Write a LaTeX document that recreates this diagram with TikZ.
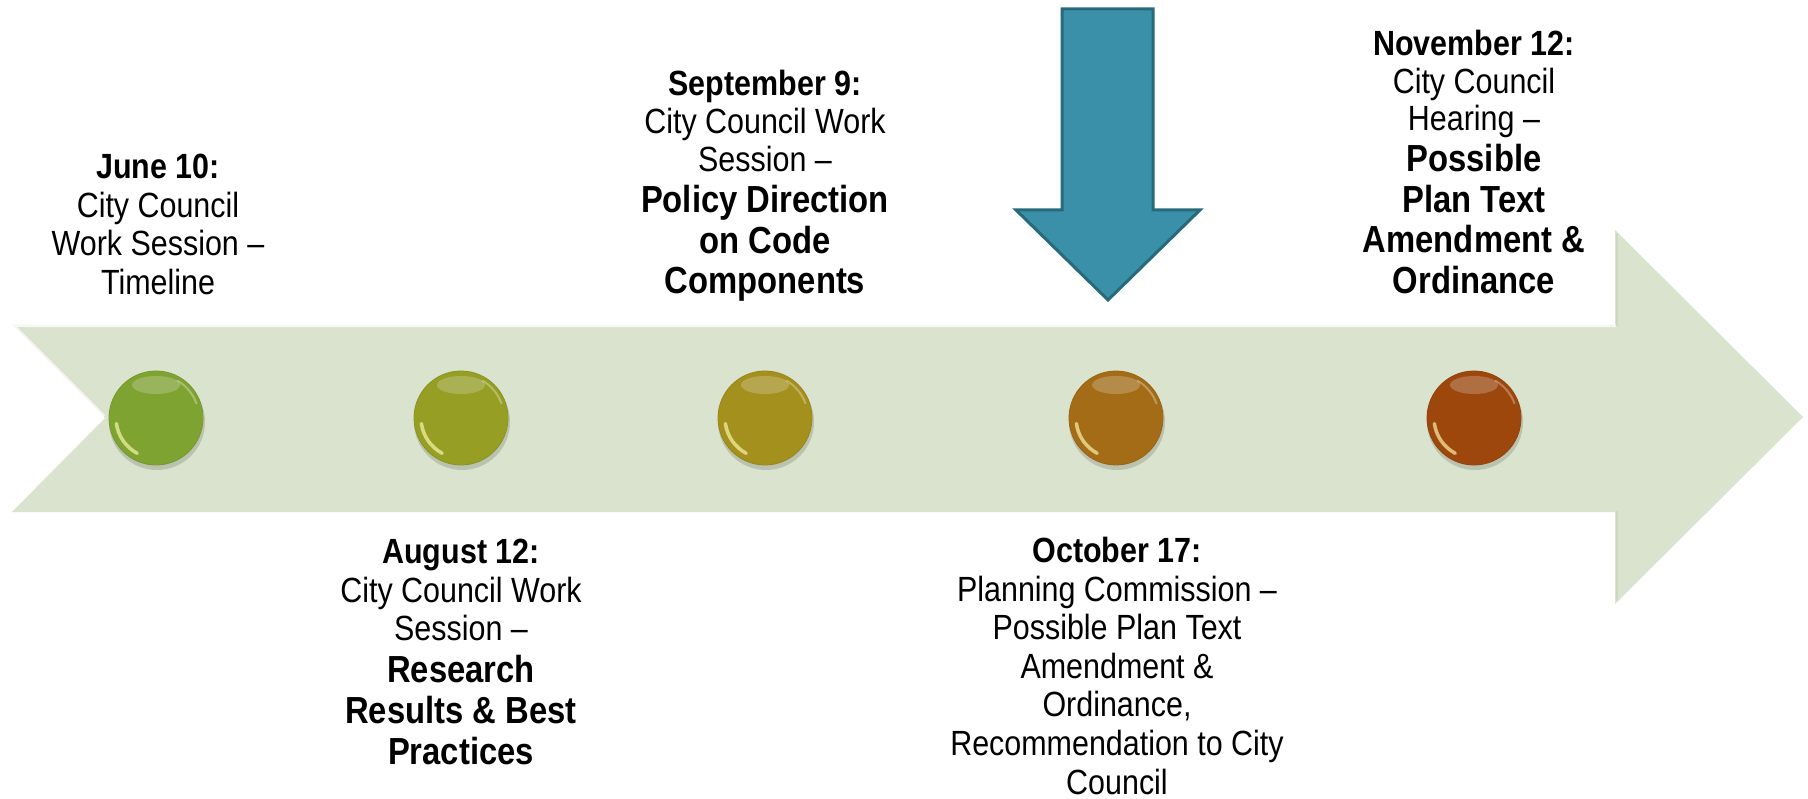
\documentclass[tikz,border=0pt]{standalone}
\usepackage{fontspec}
\setmainfont{Liberation Sans}[FakeStretch=0.87]
\definecolor{sage}{HTML}{D9E3CD}
\definecolor{teal}{HTML}{3A90A8}
\definecolor{tealdark}{HTML}{276B7B}
\definecolor{bgreen}{HTML}{8BB236}
\definecolor{blime}{HTML}{A3AD28}
\definecolor{bolive}{HTML}{B39D20}
\definecolor{bamber}{HTML}{B37618}
\definecolor{brust}{HTML}{AB4E0E}
\newcommand\bigb[1]{{\fontsize{37.7pt}{38pt}\selectfont\bfseries #1}}
\tikzset{
  bead/.style={circle, minimum size=94pt, inner sep=0pt, draw=#1!85!black, line width=0.8pt, fill=#1},
  label35/.style={anchor=north, inner sep=0pt, align=center, text=black},
}
\newcommand\drawbead[4]{%
  \fill[black,opacity=0.14] ({#2+1},{#3+4}) circle (48);
  \node[bead=#4] (#1) at (#2,#3) {};
  \begin{scope}
    \clip (#2,#3) circle (46.5);
    \fill[white,opacity=0.28] ({#2},{#3-33}) ellipse [x radius=24, y radius=9];
    \fill[#4!60!black,opacity=0.2] (#2,#3) circle (47) (#2,#3) circle (42);
  \end{scope}
  \draw[white!70!yellow,opacity=0.65,line width=3.5pt,line cap=round] ({#2+40*cos(118)},{#3+40*sin(118)}) arc[start angle=118, end angle=172, radius=40];
  \draw[white,opacity=0.3,line width=2pt,line cap=round] ({#2+43*cos(-60)},{#3+43*sin(-60)}) arc[start angle=-60, end angle=-20, radius=43];
}
\begin{document}
\begin{tikzpicture}[x=1pt,y=-1pt]
\useasboundingbox (0,0) rectangle (1808,799);
% big timeline arrow
\coordinate (bl) at (12,512);
\fill[sage] (12,325) -- (1615,325) -- (1615,230) -- (1803,417) -- (1615,604) -- (1615,512) -- (bl) -- (105,418) -- cycle;
\draw[white,opacity=0.75,line width=2.5pt] (104,416) -- (14,326) -- (1616,326);
\draw[sage!85!black,opacity=0.35,line width=2pt] (1617,326) -- (1617,233);
\draw[sage!85!black,opacity=0.35,line width=2pt] (1617,511) -- (1617,601);
% down arrow
\draw[fill=teal, draw=tealdark, line width=3pt, line join=miter]
  (1062,9) -- (1153,9) -- (1153,210) -- (1200,210) -- (1108,300) -- (1016,210) -- (1062,210) -- cycle;
% beads
\drawbead{c1}{156}{418}{bgreen}
\drawbead{c2}{461}{418}{blime}
\drawbead{c3}{765}{418}{bolive}
\drawbead{c4}{1116}{418}{bamber}
\drawbead{c5}{1474}{418}{brust}
% labels
\node[label35, font=\fontsize{35pt}{38.5pt}\selectfont] (t1) at (158,154)
  {\textbf{June 10:}\\City Council\\Work Session –\\Timeline};
\node[label35, font=\fontsize{35pt}{38.5pt}\selectfont] (t2) at (461,539)
  {\textbf{August 12:}\\City Council Work\\Session –\\[3pt]\bigb{Research}\\[2.5pt]\bigb{Results \& Best}\\[2.5pt]\bigb{Practices}};
\node[label35, font=\fontsize{35pt}{38pt}\selectfont] (t3) at (765,70)
  {\textbf{September 9:}\\City Council Work\\Session –\\[3pt]\bigb{Policy Direction}\\[2.5pt]\bigb{on Code}\\[2.5pt]\bigb{Components}};
\node[label35, font=\fontsize{35pt}{38.6pt}\selectfont] (t4) at (1117,537)
  {\textbf{October 17:}\\Planning Commission –\\Possible Plan Text\\Amendment \&\\Ordinance,\\Recommendation to City\\Council};
\node[label35, font=\fontsize{35pt}{37.5pt}\selectfont] (t5) at (1474,30)
  {\textbf{November 12:}\\City Council\\Hearing –\\[3.5pt]\bigb{Possible}\\[3pt]\bigb{Plan Text}\\[3pt]\bigb{Amendment \&}\\[3pt]\bigb{Ordinance}};
\end{tikzpicture}
\end{document}
